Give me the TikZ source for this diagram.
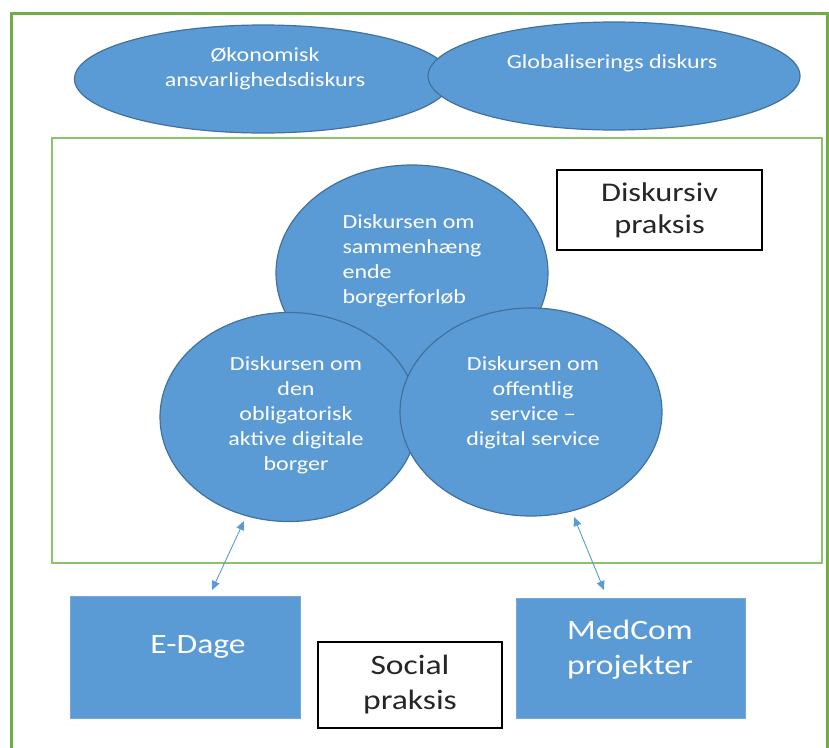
\documentclass[tikz,border=0pt]{standalone}
\usepackage{fontspec}
\setmainfont[FakeStretch=1.2]{Carlito}
\usetikzlibrary{shapes.geometric,arrows.meta}
\definecolor{bluefill}{HTML}{5B9BD5}
\definecolor{blueedge}{HTML}{41719C}
\definecolor{greenline}{HTML}{70AD47}
\definecolor{greenlight}{HTML}{8CC26B}
\definecolor{arrowblue}{HTML}{5B9BD5}
\begin{document}
\begin{tikzpicture}[x=1pt,y=-1pt,
  discell/.style={ellipse,draw=blueedge,line width=1.2pt,fill=bluefill,inner sep=0pt,text=white},
  circtext/.style={text=white,font=\fontsize{20}{25}\selectfont,align=center,inner sep=0pt},
  bluebox/.style={draw=bluefill!85!white,line width=1pt,fill=bluefill,text=white,font=\fontsize{28}{35}\selectfont,align=center,inner sep=0pt},
  labelbox/.style={draw=black,line width=1.2pt,fill=white,text=black!85,align=center,inner sep=0pt},
  dblarrow/.style={arrowblue,line width=0.9pt,{Triangle[length=9pt,width=8pt]}-{Triangle[length=9pt,width=8pt]}}]
\useasboundingbox (0,0) rectangle (829,747);
\fill[white] (0,0) rectangle (829,747);
% outer frame
\draw[greenline,line width=3pt] (11,13) rectangle (827,770);
% top ellipses
\node[discell,minimum width=377pt,minimum height=108pt] (oek) at (263,79) {};
\node[discell,minimum width=372pt,minimum height=108pt] (glob) at (614,76) {};
\node[circtext] (oekt) at (265,69) {Økonomisk\\ansvarlighedsdiskurs};
\node[circtext] (globt) at (612,63) {Globaliserings diskurs};
% inner frame
\draw[greenlight,line width=2pt] (52,138) rectangle (822,563);
% diskursiv praksis box
\node[labelbox,minimum width=205pt,minimum height=80pt,font=\fontsize{27}{32}\selectfont] (dp) at (659.5,210) {Diskursiv\\praksis};
% circles
\node[discell,minimum width=272pt,minimum height=216pt] (top) at (412,273) {};
\node[discell,minimum width=258pt,minimum height=209pt] (left) at (289,417) {};
\node[discell,minimum width=262pt,minimum height=208pt] (right) at (531,412) {};
\node[circtext,align=left] (topt) at (412,261) {Diskursen om\\sammenhæng\\ende\\borgerforløb};
\node[circtext] (leftt) at (296,415) {Diskursen om\\den\\obligatorisk\\aktive digitale\\borger};
\node[circtext] (rightt) at (533,403) {Diskursen om\\offentlig\\service --\\digital service};
% bottom boxes
\node[bluebox,minimum width=230pt,minimum height=122pt] (edage) at (185,657) {};
\node[text=white,font=\fontsize{28}{35}\selectfont,inner sep=0pt] (edaget) at (198,647) {E-Dage};
\node[bluebox,minimum width=229pt,minimum height=120pt] (medcom) at (630.5,658) {};
\node[text=white,font=\fontsize{28}{35}\selectfont,align=center,inner sep=0pt] (medcomt) at (630,650) {MedCom\\projekter};
\node[labelbox,minimum width=184pt,minimum height=86pt,font=\fontsize{28}{35}\selectfont] (sp) at (410,685) {Social\\praksis};
% arrows
\coordinate (a1s) at (244,521);
\coordinate (a1e) at (212,590);
\coordinate (a2s) at (574,517);
\coordinate (a2e) at (604,590);
\draw[dblarrow] (a1s) -- (a1e);
\draw[dblarrow] (a2s) -- (a2e);
\end{tikzpicture}
\end{document}
